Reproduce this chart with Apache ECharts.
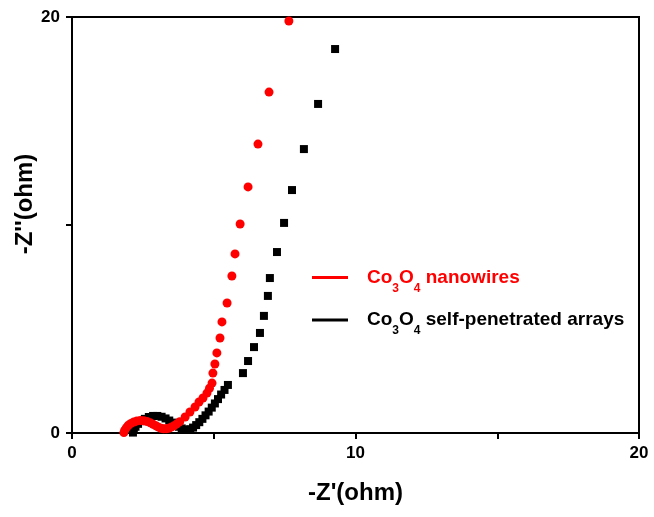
<!DOCTYPE html>
<html>
<head>
<meta charset="utf-8">
<script src="https://cdn.jsdelivr.net/npm/echarts@6/dist/echarts.min.js"></script>
<style>html,body{margin:0;padding:0;background:#fff}#c{width:654px;height:517px}</style>
</head>
<body>
<div id="c"></div>
<script>
// Series names
const nameNanowires = 'Co3O4 nanowires';
const nameArrays = 'Co3O4 self-penetrated arrays';

// Co3O4 nanowires: Z' (ohm)
const nanowiresZre = [1.83,1.86,1.92,1.99,2.08,2.18,2.29,2.41,2.53,2.65,2.76,2.86,2.96,3.05,3.14,3.23,3.32,3.41,3.50,3.60,3.70,3.80,
  3.99,4.16,4.34,4.48,4.62,4.76,4.85,4.94,4.97,5.04,5.11,5.22,5.29,5.47,5.64,5.75,5.93,6.21,6.56,6.95,7.65];
// Co3O4 nanowires: -Z'' (ohm)
const nanowiresZim = [0.02,0.14,0.26,0.37,0.46,0.53,0.58,0.60,0.59,0.55,0.49,0.42,0.35,0.28,0.23,0.20,0.20,0.23,0.28,0.35,0.44,0.54,
  0.77,1.01,1.25,1.49,1.68,1.92,2.15,2.40,2.88,3.32,3.85,4.57,5.34,6.25,7.55,8.61,10.05,11.83,13.89,16.39,19.81];

// Co3O4 self-penetrated arrays: Z' (ohm)
const arraysZre = [2.15,2.18,2.24,2.33,2.44,2.57,2.71,2.86,3.01,3.16,3.30,3.43,3.55,3.66,3.77,3.87,3.97,4.07,4.17,4.27,
  4.38,4.49,4.60,4.71,4.82,4.93,5.04,5.15,5.26,5.38,5.50,6.03,6.21,6.42,6.63,6.77,6.91,6.98,7.23,7.48,7.76,8.18,8.68,9.28];
// Co3O4 self-penetrated arrays: -Z'' (ohm)
const arraysZim = [0.02,0.16,0.30,0.44,0.57,0.68,0.77,0.82,0.82,0.78,0.70,0.60,0.50,0.40,0.30,0.22,0.16,0.15,0.18,0.26,
  0.38,0.52,0.68,0.85,1.03,1.22,1.42,1.63,1.85,2.07,2.31,2.88,3.46,4.13,4.81,5.63,6.59,7.45,8.70,10.10,11.68,13.65,15.82,18.46];

// Axis ticks
const xTickLabels = [0, 10, 20];
const yTickLabels = [0, 20];

const pair = (xs, ys) => xs.map((x, i) => [x, ys[i]]);

const FONT = '"Liberation Sans", Arial, sans-serif';
const chart = echarts.init(document.getElementById('c'), null, {renderer: 'canvas'});

function legendFmt(name) {
  const red = name === nameNanowires;
  const m = red ? 'r' : 'k', s = red ? 'rs' : 'ks';
  const rest = name.replace('Co3O4', '');
  return `{${m}|Co}{${s}|3}{${m}|O}{${s}|4}{${m}|${rest}}`;
}
const mainStyle = c => ({color: c, fontSize: 19, fontWeight: 'bold', fontFamily: FONT, lineHeight: 34, verticalAlign: 'middle'});
const subStyle = c => ({color: c, fontSize: 12, fontWeight: 'bold', fontFamily: FONT, lineHeight: 12, verticalAlign: 'bottom'});

chart.setOption({
  animation: false,
  backgroundColor: '#fff',
  grid: {left: 72, right: 15, top: 17, bottom: 84, show: true, borderColor: '#000', borderWidth: 2, backgroundColor: 'transparent'},
  xAxis: {
    type: 'value', min: 0, max: 20, interval: 5,
    name: "-Z'(ohm)", nameLocation: 'middle', nameGap: 48, nameMoveOverlap: false,
    nameTextStyle: {fontSize: 24, fontWeight: 'bold', fontFamily: FONT, color: '#000'},
    axisLine: {show: true, onZero: false, lineStyle: {color: '#000', width: 2}},
    axisTick: {show: true, inside: false, length: 6, lineStyle: {color: '#000', width: 2}},
    axisLabel: {margin: 12, fontSize: 17, fontWeight: 'bold', fontFamily: FONT, color: '#000',
      formatter: v => xTickLabels.includes(v) ? String(v) : ''},
    splitLine: {show: false}
  },
  yAxis: {
    type: 'value', min: 0, max: 20, interval: 10,
    name: "-Z''(ohm)", nameLocation: 'middle', nameGap: 35, nameRotate: 90, nameMoveOverlap: false,
    nameTextStyle: {fontSize: 24, fontWeight: 'bold', fontFamily: FONT, color: '#000', padding: [0, 0, 0, 42]},
    axisLine: {show: true, onZero: false, lineStyle: {color: '#000', width: 2}},
    axisTick: {show: true, inside: false, length: 6, lineStyle: {color: '#000', width: 2}},
    axisLabel: {margin: 12, fontSize: 17, fontWeight: 'bold', fontFamily: FONT, color: '#000',
      formatter: v => yTickLabels.includes(v) ? String(v) : ''},
    splitLine: {show: false}
  },
  legend: {
    orient: 'vertical', left: 307, top: 263, itemGap: 16,
    itemWidth: 36, itemHeight: 3, icon: 'rect',
    data: [nameNanowires, nameArrays],
    formatter: legendFmt,
    textStyle: {padding: [0, 0, 0, 14], rich: {
      r: mainStyle('#ff0000'), rs: subStyle('#ff0000'),
      k: mainStyle('#000000'), ks: subStyle('#000000')
    }}
  },
  series: [
    {name: nameArrays, type: 'scatter', symbol: 'rect', symbolSize: 8, clip: false,
     itemStyle: {color: '#000000', opacity: 1}, data: pair(arraysZre, arraysZim)},
    {name: nameNanowires, type: 'scatter', symbol: 'circle', symbolSize: 9, clip: false,
     itemStyle: {color: '#ff0000', opacity: 1}, data: pair(nanowiresZre, nanowiresZim)}
  ]
});
</script>
</body>
</html>
